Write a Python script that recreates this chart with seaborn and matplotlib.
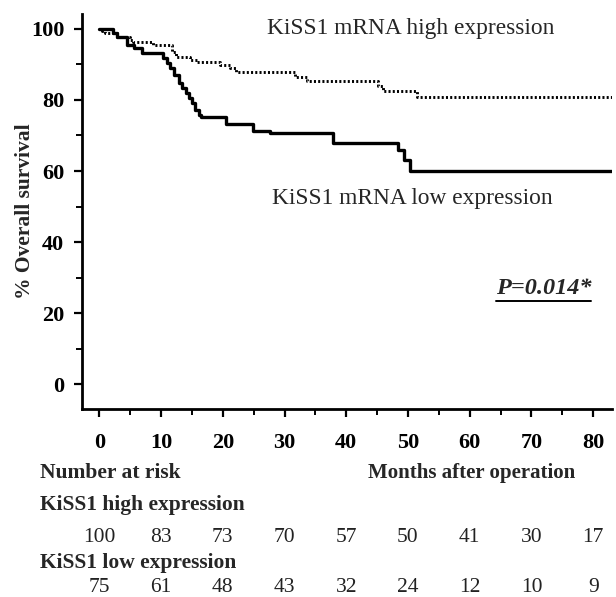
import matplotlib
matplotlib.use('Agg')
import matplotlib.pyplot as plt
import matplotlib.transforms as mtransforms
from matplotlib.lines import Line2D
import pandas as pd
import seaborn as sns

# Kaplan-Meier steps (months, % survival)
months_high = [0, 0.4, 0.9, 2.8, 5.0, 5.5, 8.7, 11.7, 12.4, 14.7, 15.8, 19.5, 21.2, 22.2,
               31.7, 33.6, 45.2, 46.0, 51.4, 83]
surv_high = [100, 99.4, 98.8, 97.8, 97.0, 96.4, 95.5, 93.6, 92.2, 91.3, 90.8, 89.9, 89.0, 88.0,
             86.6, 85.2, 83.8, 82.6, 80.9, 80.9]

months_low = [0, 2.2, 2.8, 4.5, 5.6, 6.9, 10.4, 11.0, 11.5, 12.1, 12.9, 13.4, 14.0, 14.6,
              15.0, 15.5, 16.1, 16.4, 20.6, 24.9, 27.6, 37.9, 48.4, 49.4, 50.4, 83]
surv_low = [100, 98.8, 97.7, 95.5, 94.6, 93.2, 91.7, 90.3, 88.9, 87.0, 84.7, 83.3, 82.0, 80.5,
            79.1, 77.2, 75.8, 75.3, 73.3, 71.4, 70.6, 68.0, 66.0, 63.1, 60.0, 60.0]

risk_months = [0, 10, 20, 30, 40, 50, 60, 70, 80]
risk_high = [100, 83, 73, 70, 57, 50, 41, 30, 17]
risk_low = [75, 61, 48, 43, 32, 24, 12, 10, 9]

sns.set_style('ticks')
plt.rcParams['font.family'] = ['Liberation Serif', 'DejaVu Serif']
plt.rcParams['font.weight'] = 'bold'

W, H = 616, 597
fig = plt.figure(figsize=(W / 100, H / 100), dpi=100)
ax = fig.add_axes([81.7 / W, 1 - 409 / H, (611.7 - 81.7) / W, (409 - 14) / H])

df_high = pd.DataFrame({'months': months_high, 'survival': surv_high})
df_low = pd.DataFrame({'months': months_low, 'survival': surv_low})

sns.lineplot(data=df_high, x='months', y='survival', ax=ax, color='black', lw=2.1,
             drawstyle='steps-post', linestyle=(0, (0.7, 0.75)), estimator=None)
sns.lineplot(data=df_low, x='months', y='survival', ax=ax, color='black', lw=2.4,
             drawstyle='steps-post', estimator=None)

ax.set_xlim(-2.85, 83)
ax.set_ylim(-7, 104.2)
ax.set_xticks(range(0, 81, 10))
ax.set_xticks(range(5, 81, 10), minor=True)
ax.set_yticks(range(0, 101, 20))
ax.set_yticks(range(10, 100, 20), minor=True)
ax.tick_params(which='major', length=5.5, width=1.6, direction='out', labelsize=16,
               color='black', labelcolor='black')
ax.tick_params(axis='x', which='major', pad=12)
ax.tick_params(axis='y', which='major', pad=7)
ax.tick_params(which='minor', length=4, width=1.4, direction='out', color='black')
sns.despine(ax=ax)
for side in ['left', 'bottom']:
    ax.spines[side].set_linewidth(2.0)
    ax.spines[side].set_color('black')

ax.set_xlabel('')
ax.set_ylabel('% Overall survival', fontsize=15.5, fontweight='bold', labelpad=-3)

ax.text(27.1, 100.2, 'KiSS1 mRNA high expression', fontsize=16.8, fontweight='normal',
        va='center', ha='left')
ax.text(28.0, 52.3, 'KiSS1 mRNA low expression', fontsize=16.8, fontweight='normal',
        va='center', ha='left')
ptxt = ax.text(64.2, 26.8, 'P=0.014*', fontsize=17.5, fontweight='bold', style='italic',
               va='center', ha='left')

# number at risk table
fy = lambda py: 1 - py / H
fig.text(40 / W, fy(473), 'Number at risk', fontsize=15.5, va='center', ha='left')
fig.text(368 / W, fy(473), 'Months after operation', fontsize=15, va='center', ha='left')
fig.text(40 / W, fy(505), 'KiSS1 high expression', fontsize=15.5, va='center', ha='left')
fig.text(40 / W, fy(563), 'KiSS1 low expression', fontsize=15.5, va='center', ha='left')
trans = mtransforms.blended_transform_factory(ax.transData, fig.transFigure)
for m, nh, nl in zip(risk_months, risk_high, risk_low):
    ax.text(m, fy(537), str(nh), transform=trans, fontsize=15.5, fontweight='normal',
            ha='center', va='center', color='#222222')
    ax.text(m, fy(587), str(nl), transform=trans, fontsize=15.5, fontweight='normal',
            ha='center', va='center', color='#222222')

# underline the p value
fig.canvas.draw()
bb = ptxt.get_window_extent(renderer=fig.canvas.get_renderer())
fig.add_artist(Line2D([bb.x0 / W, bb.x1 / W], [(bb.y0 - 2) / H, (bb.y0 - 2) / H],
                      transform=fig.transFigure, color='black', lw=1.4))

fig.savefig('out.png', dpi=100)
